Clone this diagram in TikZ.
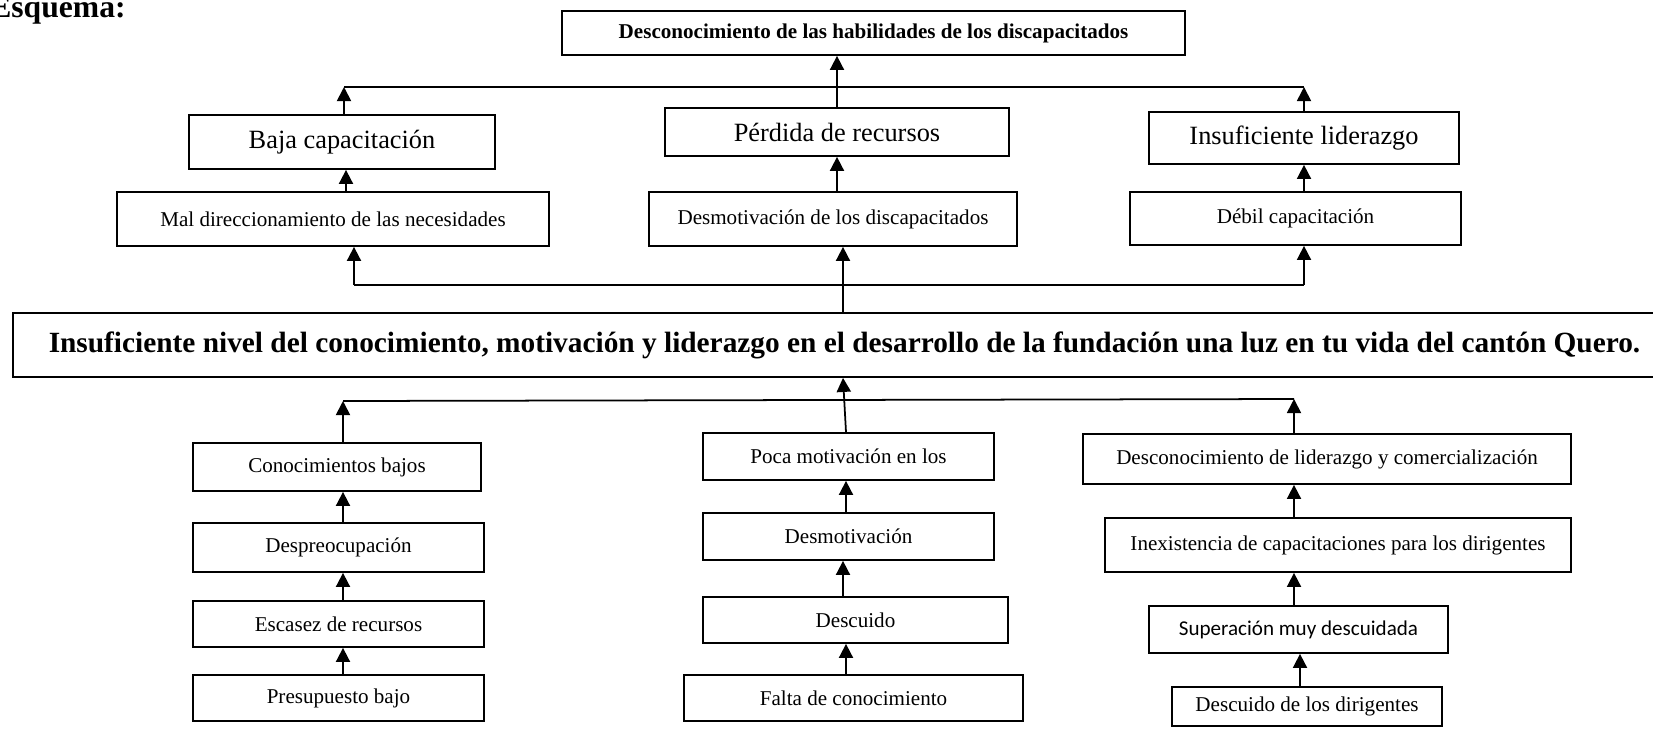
\documentclass[tikz,border=0pt]{standalone}
\usepackage{fontspec}
\setmainfont{Liberation Serif}
\newfontfamily\calibri{Carlito}
\usetikzlibrary{arrows.meta}
\tikzset{
	caja/.style={draw, line width=1pt, inner sep=0pt, align=center, font=\fontsize{12}{14}\selectfont},
	cajagrande/.style={caja, font=\fontsize{15}{18}\selectfont},
	flecha/.style={-{Triangle[length=8pt,width=8pt]}, line width=1pt},
	linea/.style={line width=1pt}
}
\begin{document}
\begin{tikzpicture}[x=0.02cm, y=-0.02cm]
	\useasboundingbox (0,0) rectangle (1653,728);
	\node[anchor=base east, inner sep=0pt, font=\fontsize{18}{20}\selectfont\bfseries] (esquema) at (126,17) {Esquema:};
	\node[caja, font=\fontsize{12}{14}\selectfont\bfseries, minimum width=623*0.02cm, minimum height=44*0.02cm] (hab) at (873.5,33) {Desconocimiento de las habilidades de los discapacitados};
	\foreach \n/\cx/\cy/\w/\h/\t in {baja/342/142/306/54/Baja capacitación, perdida/837/132/344/48/Pérdida de recursos, insuf/1304/138/310/52/Insuficiente liderazgo}
		{
			\node[cajagrande, minimum width=\w*0.02cm, minimum height=\h*0.02cm] (\n) at (\cx,\cy) {\t};
		}
	\foreach \n/\cx/\cy/\w/\h/\t in {mal/333/219/432/54/Mal direccionamiento de las necesidades, desdisc/833/219/368/54/Desmotivación de los discapacitados, debil/1295.5/218.5/331/53/Débil capacitación,
		conoc/337/467/288/48/Conocimientos bajos, desp/338.5/547.5/291/49/Despreocupación, esc/338.5/624/291/46/Escasez de recursos, pres/338.5/698/291/46/Presupuesto bajo,
		poca/848.5/456.5/291/47/Poca motivación en los, desm/848.5/536.5/291/47/Desmotivación, descuido/855.5/620/305/46/Descuido, falta/853.5/698/339/46/Falta de conocimiento,
		desclid/1327/459/488/50/Desconocimiento de liderazgo y comercialización, inex/1338/545/466/54/Inexistencia de capacitaciones para los dirigentes, descdir/1307/706.5/270/39/Descuido de los dirigentes}
		{
			\node[caja, minimum width=\w*0.02cm, minimum height=\h*0.02cm] (\n) at (\cx,\cy) {\t};
		}
	\node[caja, font=\fontsize{12}{14}\selectfont\calibri, minimum width=299*0.02cm, minimum height=47*0.02cm] (super) at (1298.5,629.5) {Superación muy descuidada};
	\node[caja, font=\fontsize{16.7}{19}\selectfont\bfseries, minimum width=1663*0.02cm, minimum height=64*0.02cm] (central) at (844.5,345) {Insuficiente nivel del conocimiento, motivación y liderazgo en el desarrollo de la fundación una luz en tu vida del cantón Quero.};
	\coordinate (l1) at (344,87);
	\coordinate (r1) at (1304,87);
	\coordinate (l2) at (354,285);
	\coordinate (m2) at (843,285);
	\coordinate (r2) at (1304,285);
	\coordinate (l3) at (343,401);
	\coordinate (r3) at (1294,399);
	\draw[linea] (l1) -- (r1);
	\draw[flecha] (baja.north -| l1) -- (l1);
	\draw[flecha] (insuf.north -| r1) -- (r1);
	\draw[flecha] (perdida.north) -- (hab.south -| perdida.north);
	\draw[flecha] (mal.north -| 346,0) -- (baja.south -| 346,0);
	\draw[flecha] (desdisc.north -| perdida) -- (perdida.south);
	\draw[flecha] (debil.north -| insuf) -- (insuf.south);
	\draw[linea] (l2) -- (r2);
	\draw[flecha] (l2) -- (mal.south -| l2);
	\draw[flecha] (r2) -- (debil.south -| r2);
	\draw[flecha] (central.north -| m2) -- (desdisc.south -| m2);
	\draw[linea] (l3) -- (r3);
	\draw[flecha] (conoc.north -| l3) -- (l3);
	\draw[flecha] (desclid.north -| r3) -- (r3);
	\draw[flecha] (poca.north -| 846,0) -- (central.south -| 843,0);
	\draw[flecha] (desp.north -| l3) -- (conoc.south -| l3);
	\draw[flecha] (esc.north -| l3) -- (desp.south -| l3);
	\draw[flecha] (pres.north -| l3) -- (esc.south -| l3);
	\draw[flecha] (desm.north -| 846,0) -- (poca.south -| 846,0);
	\draw[flecha] (descuido.north -| m2) -- (desm.south -| m2);
	\draw[flecha] (falta.north -| 846,0) -- (descuido.south -| 846,0);
	\draw[flecha] (inex.north -| r3) -- (desclid.south -| r3);
	\draw[flecha] (super.north -| r3) -- (inex.south -| r3);
	\draw[flecha] (descdir.north -| 1300,0) -- (super.south -| 1300,0);
\end{tikzpicture}
\end{document}
